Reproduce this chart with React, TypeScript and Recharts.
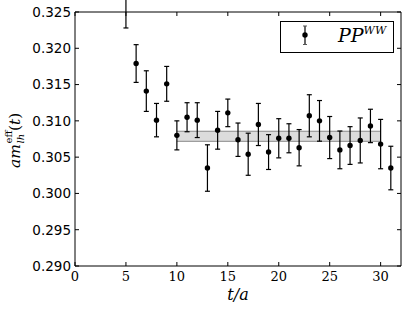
import React from "react";
import {
  ScatterChart,
  Scatter,
  XAxis,
  YAxis,
  ErrorBar,
  ReferenceArea,
  ReferenceLine,
  Legend,
} from "recharts";

// effective mass per time slice
const timeSlices = [5, 6, 7, 8, 9, 10, 11, 12, 13, 14, 15, 16, 17, 18, 19, 20, 21, 22, 23, 24, 25, 26, 27, 28, 29, 30, 31];
const meffValues = [
  0.3256, 0.3179, 0.3141, 0.3101, 0.3151, 0.308, 0.3105, 0.3101, 0.3035, 0.3087, 0.3111, 0.3074, 0.3054, 0.3095,
  0.3057, 0.3076, 0.3076, 0.3063, 0.3107, 0.31, 0.3077, 0.306, 0.3066, 0.3073, 0.3093, 0.3068, 0.3035,
];
const meffErrors = [
  0.0028, 0.0026, 0.0028, 0.0023, 0.0024, 0.002, 0.002, 0.0024, 0.0032, 0.0026, 0.0019, 0.0023, 0.0029, 0.0029,
  0.0024, 0.0027, 0.002, 0.0025, 0.0029, 0.0028, 0.0029, 0.0026, 0.0026, 0.0031, 0.0023, 0.0034, 0.003,
];

// fit band
const fitRange = [10, 30];
const fitLow = 0.30718;
const fitHigh = 0.30857;

const xTicks = [0, 5, 10, 15, 20, 25, 30];
const yTicks = [0.29, 0.295, 0.3, 0.305, 0.31, 0.315, 0.32, 0.325];
const xDomain = [0, 32];
const yDomain = [0.29, 0.325];

const seriesName = "PP";
const seriesSup = "WW";

const points = timeSlices.map((t, i) => ({ t, m: meffValues[i], err: meffErrors[i] }));

const mathFont = "'DejaVu Serif', serif";
const TICK_LEN = 4;
const X_GAP = 6;
const Y_GAP = 4;

const Dot = (p: any) => <circle cx={p.cx} cy={p.cy} r={2.7} fill="#000" />;

// bottom tick: label plus an inward tick mark
const XTick = (p: any) => {
  const top = p.y - X_GAP;
  return (
    <g>
      <line x1={p.x} y1={top} x2={p.x} y2={top - TICK_LEN} stroke="#000" />
      <text x={p.x} y={p.y} dy="0.71em" textAnchor="middle" fontFamily={mathFont} fontSize={13} fill="#000">
        {p.payload.value}
      </text>
    </g>
  );
};

const YTick = (p: any) => {
  const edge = p.x + Y_GAP;
  return (
    <g>
      <line x1={edge} y1={p.y} x2={edge + TICK_LEN} y2={p.y} stroke="#000" />
      <text
        x={p.x}
        y={p.y}
        dy="0.355em"
        textAnchor="end"
        fontFamily="'DejaVu Sans', sans-serif"
        fontSize={13.5}
        fill="#000"
      >
        {Number(p.payload.value).toFixed(3)}
      </text>
    </g>
  );
};

const YLabel = (props: any) => {
  const vb = props.viewBox || { x: 0, y: 12, width: 75, height: 254 };
  const cx = vb.x + 20;
  const cy = vb.y + vb.height / 2 + 2;
  return (
    <g transform={`translate(${cx},${cy}) rotate(-90)`} fontFamily={mathFont} fill="#000">
      <text x={-27} y={0} fontSize={15.5} fontStyle="italic">am</text>
      <text x={-2.5} y={3.5} fontSize={10} fontStyle="italic">lh</text>
      <text x={-2.5} y={-8} fontSize={10}>eff</text>
      <text x={10} y={0} fontSize={15.5}>
        (<tspan fontStyle="italic">t</tspan>)
      </text>
    </g>
  );
};

const XLabel = (props: any) => {
  const vb = props.viewBox || { x: 75, y: 266, width: 326, height: 44 };
  return (
    <text
      x={vb.x + vb.width / 2}
      y={vb.y + 34}
      textAnchor="middle"
      fontFamily={mathFont}
      fontStyle="italic"
      fontSize={16}
      fill="#000"
    >
      t/a
    </text>
  );
};

const LegendBox = () => (
  <svg width={114} height={32} style={{ display: "block" }}>
    <rect x={0.5} y={0.5} width={113} height={31} fill="#fff" stroke="#000" strokeWidth={1} />
    <line x1={25} y1={5} x2={25} y2={23.5} stroke="#000" strokeWidth={1.2} />
    <line x1={23} y1={5} x2={27} y2={5} stroke="#555" strokeWidth={1} />
    <line x1={23} y1={23.5} x2={27} y2={23.5} stroke="#555" strokeWidth={1} />
    <circle cx={25} cy={14} r={2.7} fill="#000" />
    <text x={58} y={21} fontFamily={mathFont} fontStyle="italic" fontSize={19} fill="#000">
      {seriesName}
      <tspan fontSize={11} dy={-8}>{seriesSup}</tspan>
    </text>
  </svg>
);

export default function App() {
  return (
    <div style={{ position: "absolute", left: 0, top: 0, width: 407, height: 310, background: "#fff" }}>
      <ScatterChart width={407} height={310} margin={{ top: 12, right: 6, bottom: 0, left: 0 }}>
        <XAxis
          dataKey="t"
          type="number"
          domain={xDomain}
          ticks={xTicks}
          allowDataOverflow
          height={44}
          tickSize={0}
          tickMargin={X_GAP}
          axisLine={{ stroke: "#000" }}
          tickLine={false}
          tick={<XTick />}
          label={<XLabel />}
        />
        <XAxis
          xAxisId="top"
          orientation="top"
          mirror
          dataKey="t"
          type="number"
          domain={xDomain}
          ticks={xTicks}
          allowDataOverflow
          height={1}
          tickSize={TICK_LEN}
          axisLine={{ stroke: "#000" }}
          tickLine={{ stroke: "#000" }}
          tickFormatter={() => ""}
        />
        <YAxis
          dataKey="m"
          type="number"
          domain={yDomain}
          ticks={yTicks}
          allowDataOverflow
          width={75}
          tickSize={0}
          tickMargin={Y_GAP}
          axisLine={{ stroke: "#000" }}
          tickLine={false}
          tick={<YTick />}
          label={<YLabel />}
        />
        <YAxis
          yAxisId="right"
          orientation="right"
          mirror
          dataKey="m"
          type="number"
          domain={yDomain}
          ticks={yTicks}
          allowDataOverflow
          width={1}
          tickSize={TICK_LEN}
          axisLine={{ stroke: "#000" }}
          tickLine={{ stroke: "#000" }}
          tickFormatter={() => ""}
        />
        <ReferenceArea x1={fitRange[0]} x2={fitRange[1]} y1={fitLow} y2={fitHigh} fill="#dcdcdc" fillOpacity={1} stroke="none" />
        <ReferenceLine
          segment={[
            { x: fitRange[0], y: fitHigh },
            { x: fitRange[1], y: fitHigh },
          ]}
          stroke="#8a8a8a"
        />
        <ReferenceLine
          segment={[
            { x: fitRange[0], y: fitLow },
            { x: fitRange[1], y: fitLow },
          ]}
          stroke="#8a8a8a"
        />
        <Scatter data={points} dataKey="m" shape={Dot} isAnimationActive={false} name={seriesName}>
          <ErrorBar dataKey="err" direction="y" width={2.5} stroke="#000" strokeWidth={1.2} />
        </Scatter>
        <Legend
          content={<LegendBox />}
          verticalAlign="middle"
          wrapperStyle={{ left: 280, top: 21, width: 114, height: 32 }}
        />
      </ScatterChart>
    </div>
  );
}
